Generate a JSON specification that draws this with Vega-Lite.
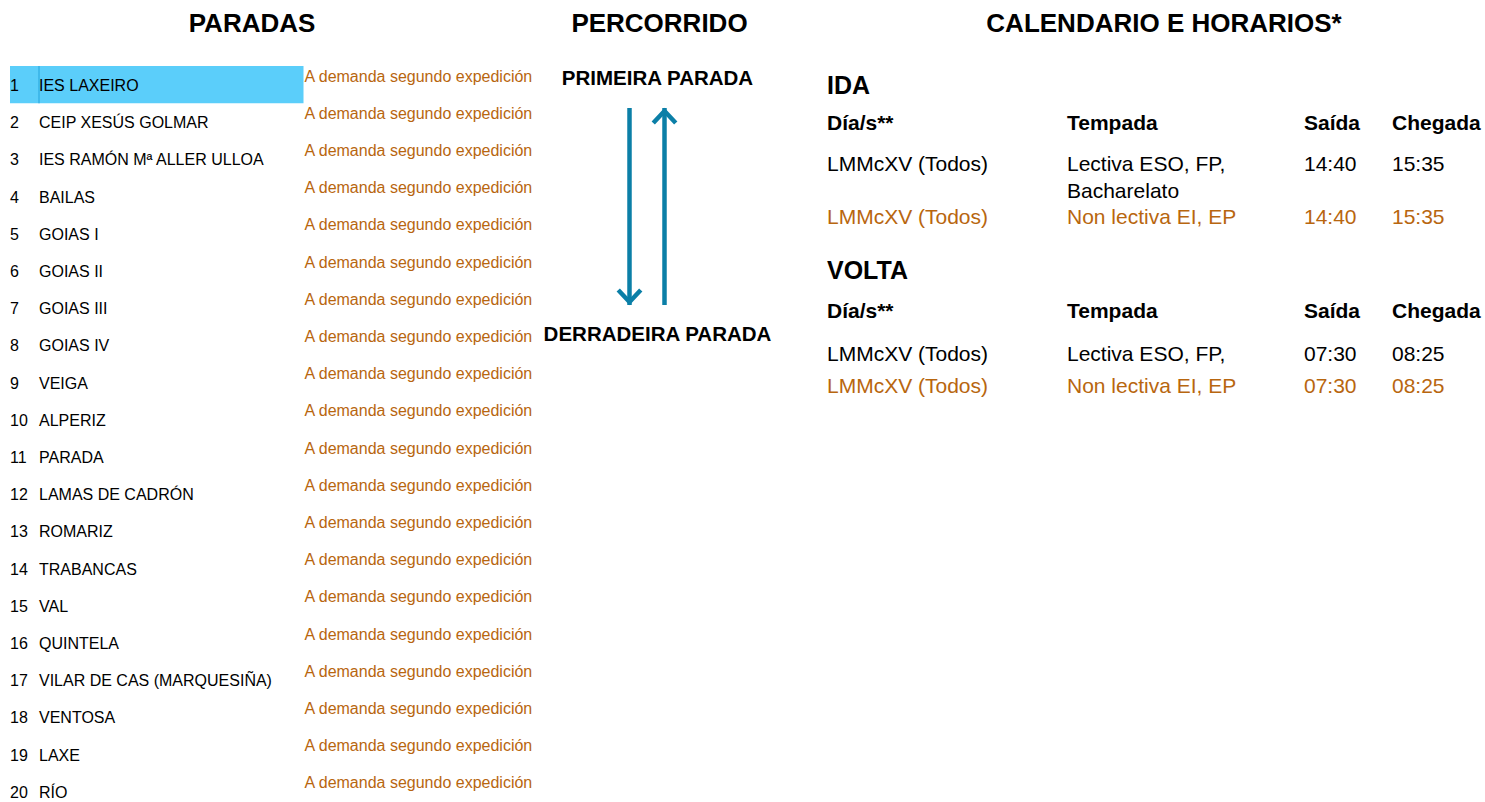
{
  "$schema": "https://vega.github.io/schema/vega-lite/v6.json",
  "width": 1485,
  "height": 802,
  "autosize": {"type": "none"},
  "padding": 0,
  "background": "#ffffff",
  "config": {"view": {"stroke": null}, "text": {"font": "Liberation Sans"}},
  "datasets": {
    "stops": [
      {"stop": 1, "name": "IES LAXEIRO", "note": "A demanda segundo expedición"},
      {"stop": 2, "name": "CEIP XESÚS GOLMAR", "note": "A demanda segundo expedición"},
      {"stop": 3, "name": "IES RAMÓN Mª ALLER ULLOA", "note": "A demanda segundo expedición"},
      {"stop": 4, "name": "BAILAS", "note": "A demanda segundo expedición"},
      {"stop": 5, "name": "GOIAS I", "note": "A demanda segundo expedición"},
      {"stop": 6, "name": "GOIAS II", "note": "A demanda segundo expedición"},
      {"stop": 7, "name": "GOIAS III", "note": "A demanda segundo expedición"},
      {"stop": 8, "name": "GOIAS IV", "note": "A demanda segundo expedición"},
      {"stop": 9, "name": "VEIGA", "note": "A demanda segundo expedición"},
      {"stop": 10, "name": "ALPERIZ", "note": "A demanda segundo expedición"},
      {"stop": 11, "name": "PARADA", "note": "A demanda segundo expedición"},
      {"stop": 12, "name": "LAMAS DE CADRÓN", "note": "A demanda segundo expedición"},
      {"stop": 13, "name": "ROMARIZ", "note": "A demanda segundo expedición"},
      {"stop": 14, "name": "TRABANCAS", "note": "A demanda segundo expedición"},
      {"stop": 15, "name": "VAL", "note": "A demanda segundo expedición"},
      {"stop": 16, "name": "QUINTELA", "note": "A demanda segundo expedición"},
      {"stop": 17, "name": "VILAR DE CAS (MARQUESIÑA)", "note": "A demanda segundo expedición"},
      {"stop": 18, "name": "VENTOSA", "note": "A demanda segundo expedición"},
      {"stop": 19, "name": "LAXE", "note": "A demanda segundo expedición"},
      {"stop": 20, "name": "RÍO", "note": "A demanda segundo expedición"}
    ],
    "panels": [
      {"panel": "PARADAS", "order": 0},
      {"panel": "PERCORRIDO", "order": 1},
      {"panel": "CALENDARIO E HORARIOS*", "order": 2}
    ],
    "ends": [
      {"label": "PRIMEIRA PARADA", "end": "first"},
      {"label": "DERRADEIRA PARADA", "end": "last"}
    ],
    "route": [
      {"sentido": "IDA", "from": 0, "to": 1},
      {"sentido": "VOLTA", "from": 1, "to": 0}
    ],
    "sections": [
      {"sentido": "IDA", "row": 0},
      {"sentido": "VOLTA", "row": 4}
    ],
    "headers": [
      {"row": 1, "dias": "Día/s**", "tempada": "Tempada", "saida": "Saída", "chegada": "Chegada"},
      {"row": 5, "dias": "Día/s**", "tempada": "Tempada", "saida": "Saída", "chegada": "Chegada"}
    ],
    "schedule": [
      {"row": 2, "sentido": "IDA", "dias": "LMMcXV (Todos)", "tempada": ["Lectiva ESO, FP,", "Bacharelato"], "saida": "14:40", "chegada": "15:35", "tipo": "Lectiva"},
      {"row": 3, "sentido": "IDA", "dias": "LMMcXV (Todos)", "tempada": "Non lectiva EI, EP", "saida": "14:40", "chegada": "15:35", "tipo": "Non lectiva"},
      {"row": 6, "sentido": "VOLTA", "dias": "LMMcXV (Todos)", "tempada": "Lectiva ESO, FP,", "saida": "07:30", "chegada": "08:25", "tipo": "Lectiva"},
      {"row": 7, "sentido": "VOLTA", "dias": "LMMcXV (Todos)", "tempada": "Non lectiva EI, EP", "saida": "07:30", "chegada": "08:25", "tipo": "Non lectiva"}
    ]
  },
  "layer": [
    {
      "data": {"name": "stops"},
      "encoding": {
        "y": {"field": "stop", "type": "ordinal", "scale": {"type": "band", "range": [66, 810], "paddingInner": 0, "paddingOuter": 0}, "axis": null}
      },
      "layer": [
        {
          "transform": [{"filter": "datum.stop === 1"}],
          "mark": {"type": "rect", "fill": "#5bcefa"},
          "encoding": {
            "x": {"datum": 0, "type": "quantitative", "scale": {"domain": [0, 1, 2], "range": [10, 39, 303.5], "nice": false, "zero": false}, "axis": null},
            "x2": {"datum": 2}
          }
        },
        {
          "transform": [{"filter": "datum.stop === 1"}],
          "mark": {"type": "rect", "fill": null, "stroke": "#36b2e6", "strokeWidth": 1},
          "encoding": {
            "x": {"datum": 1, "type": "quantitative"},
            "x2": {"datum": 1}
          }
        },
        {
          "mark": {"type": "text", "align": "left", "baseline": "alphabetic", "dy": 6.3, "fontSize": 16, "fill": "#000000"},
          "encoding": {
            "x": {"datum": 0, "type": "quantitative"},
            "text": {"field": "stop", "type": "ordinal"}
          }
        },
        {
          "mark": {"type": "text", "align": "left", "baseline": "alphabetic", "dy": 6.3, "fontSize": 16, "fill": "#000000"},
          "encoding": {
            "x": {"datum": 1, "type": "quantitative"},
            "text": {"field": "name", "type": "nominal"}
          }
        },
        {
          "mark": {"type": "text", "align": "left", "baseline": "alphabetic", "dy": -3, "dx": 1, "fontSize": 16, "fill": "#b8660f"},
          "encoding": {
            "x": {"datum": 2, "type": "quantitative"},
            "text": {"field": "note", "type": "nominal"}
          }
        }
      ]
    },
    {
      "data": {"name": "panels"},
      "mark": {"type": "text", "align": "center", "baseline": "alphabetic", "fontSize": 26, "fontWeight": "bold", "fill": "#000000"},
      "encoding": {
        "x": {"field": "order", "type": "quantitative", "scale": {"domain": [0, 1, 2], "range": [252, 659.5, 1164], "nice": false, "zero": false}, "axis": null},
        "y": {"datum": 0, "type": "quantitative", "scale": {"domain": [0, 1], "range": [32, 802], "nice": false, "zero": false}, "axis": null},
        "text": {"field": "panel", "type": "nominal"}
      }
    },
    {
      "data": {"name": "ends"},
      "mark": {"type": "text", "align": "center", "baseline": "alphabetic", "fontSize": 20.5, "fontWeight": "bold", "fill": "#000000"},
      "encoding": {
        "x": {"datum": 1, "type": "quantitative", "scale": {"domain": [0, 1, 2], "range": [252, 657.5, 1164], "nice": false, "zero": false}, "axis": null},
        "y": {"field": "end", "type": "nominal", "scale": {"type": "point", "domain": ["first", "last"], "range": [85, 341], "padding": 0}, "axis": null},
        "text": {"field": "label", "type": "nominal"}
      }
    },
    {
      "data": {"name": "route"},
      "encoding": {
        "x": {"field": "sentido", "type": "nominal", "scale": {"type": "point", "domain": ["IDA", "VOLTA"], "range": [629.5, 664.5], "padding": 0}, "axis": null}
      },
      "layer": [
        {
          "mark": {"type": "rule", "stroke": "#0b7fa7", "strokeWidth": 4.5},
          "encoding": {
            "y": {"field": "from", "type": "quantitative", "scale": {"domain": [0, 1], "range": [108, 305], "nice": false, "zero": false}, "axis": null},
            "y2": {"field": "to"}
          }
        },
        {
          "mark": {"type": "point", "filled": false, "stroke": "#0b7fa7", "strokeWidth": 4.5, "size": 900, "opacity": 1},
          "encoding": {
            "y": {"field": "to", "type": "quantitative"},
            "shape": {"field": "sentido", "type": "nominal", "scale": {"domain": ["IDA", "VOLTA"], "range": ["M-0.75,-1.0L0,-0.2L0.75,-1.0", "M-0.75,1.0L0,0.2L0.75,1.0"]}, "legend": null}
          }
        }
      ]
    },
    {
      "encoding": {
        "y": {"field": "row", "type": "quantitative", "scale": {"domain": [0, 1, 2, 3, 4, 5, 6, 7], "range": [94, 129.5, 171, 224, 279, 317.5, 361, 392.5], "nice": false, "zero": false}, "axis": null}
      },
      "layer": [
        {
          "data": {"name": "sections"},
          "mark": {"type": "text", "align": "left", "baseline": "alphabetic", "fontSize": 25, "fontWeight": "bold", "fill": "#000000"},
          "encoding": {
            "x": {"datum": 0, "type": "quantitative", "scale": {"domain": [0, 1, 2, 3], "range": [827, 1067, 1304, 1392], "nice": false, "zero": false}, "axis": null},
            "text": {"field": "sentido", "type": "nominal"}
          }
        },
        {
          "data": {"name": "headers"},
          "mark": {"type": "text", "align": "left", "baseline": "alphabetic", "fontSize": 21, "fontWeight": "bold", "fill": "#000000"},
          "encoding": {"x": {"datum": 0, "type": "quantitative"}, "text": {"field": "dias", "type": "nominal"}}
        },
        {
          "data": {"name": "headers"},
          "mark": {"type": "text", "align": "left", "baseline": "alphabetic", "fontSize": 21, "fontWeight": "bold", "fill": "#000000"},
          "encoding": {"x": {"datum": 1, "type": "quantitative"}, "text": {"field": "tempada", "type": "nominal"}}
        },
        {
          "data": {"name": "headers"},
          "mark": {"type": "text", "align": "left", "baseline": "alphabetic", "fontSize": 21, "fontWeight": "bold", "fill": "#000000"},
          "encoding": {"x": {"datum": 2, "type": "quantitative"}, "text": {"field": "saida", "type": "nominal"}}
        },
        {
          "data": {"name": "headers"},
          "mark": {"type": "text", "align": "left", "baseline": "alphabetic", "fontSize": 21, "fontWeight": "bold", "fill": "#000000"},
          "encoding": {"x": {"datum": 3, "type": "quantitative"}, "text": {"field": "chegada", "type": "nominal"}}
        },
        {
          "data": {"name": "schedule"},
          "mark": {"type": "text", "align": "left", "baseline": "alphabetic", "fontSize": 21},
          "encoding": {
            "x": {"datum": 0, "type": "quantitative"},
            "text": {"field": "dias", "type": "nominal"},
            "color": {"field": "tipo", "type": "nominal", "scale": {"domain": ["Lectiva", "Non lectiva"], "range": ["#000000", "#b8660f"]}, "legend": null}
          }
        },
        {
          "data": {"name": "schedule"},
          "mark": {"type": "text", "align": "left", "baseline": "alphabetic", "fontSize": 21, "lineHeight": 27},
          "encoding": {
            "x": {"datum": 1, "type": "quantitative"},
            "text": {"field": "tempada", "type": "nominal"},
            "color": {"field": "tipo", "type": "nominal", "legend": null}
          }
        },
        {
          "data": {"name": "schedule"},
          "mark": {"type": "text", "align": "left", "baseline": "alphabetic", "fontSize": 21},
          "encoding": {
            "x": {"datum": 2, "type": "quantitative"},
            "text": {"field": "saida", "type": "nominal"},
            "color": {"field": "tipo", "type": "nominal", "legend": null}
          }
        },
        {
          "data": {"name": "schedule"},
          "mark": {"type": "text", "align": "left", "baseline": "alphabetic", "fontSize": 21},
          "encoding": {
            "x": {"datum": 3, "type": "quantitative"},
            "text": {"field": "chegada", "type": "nominal"},
            "color": {"field": "tipo", "type": "nominal", "legend": null}
          }
        }
      ]
    }
  ],
  "resolve": {"scale": {"x": "independent", "y": "independent", "color": "independent", "shape": "independent"}}
}
